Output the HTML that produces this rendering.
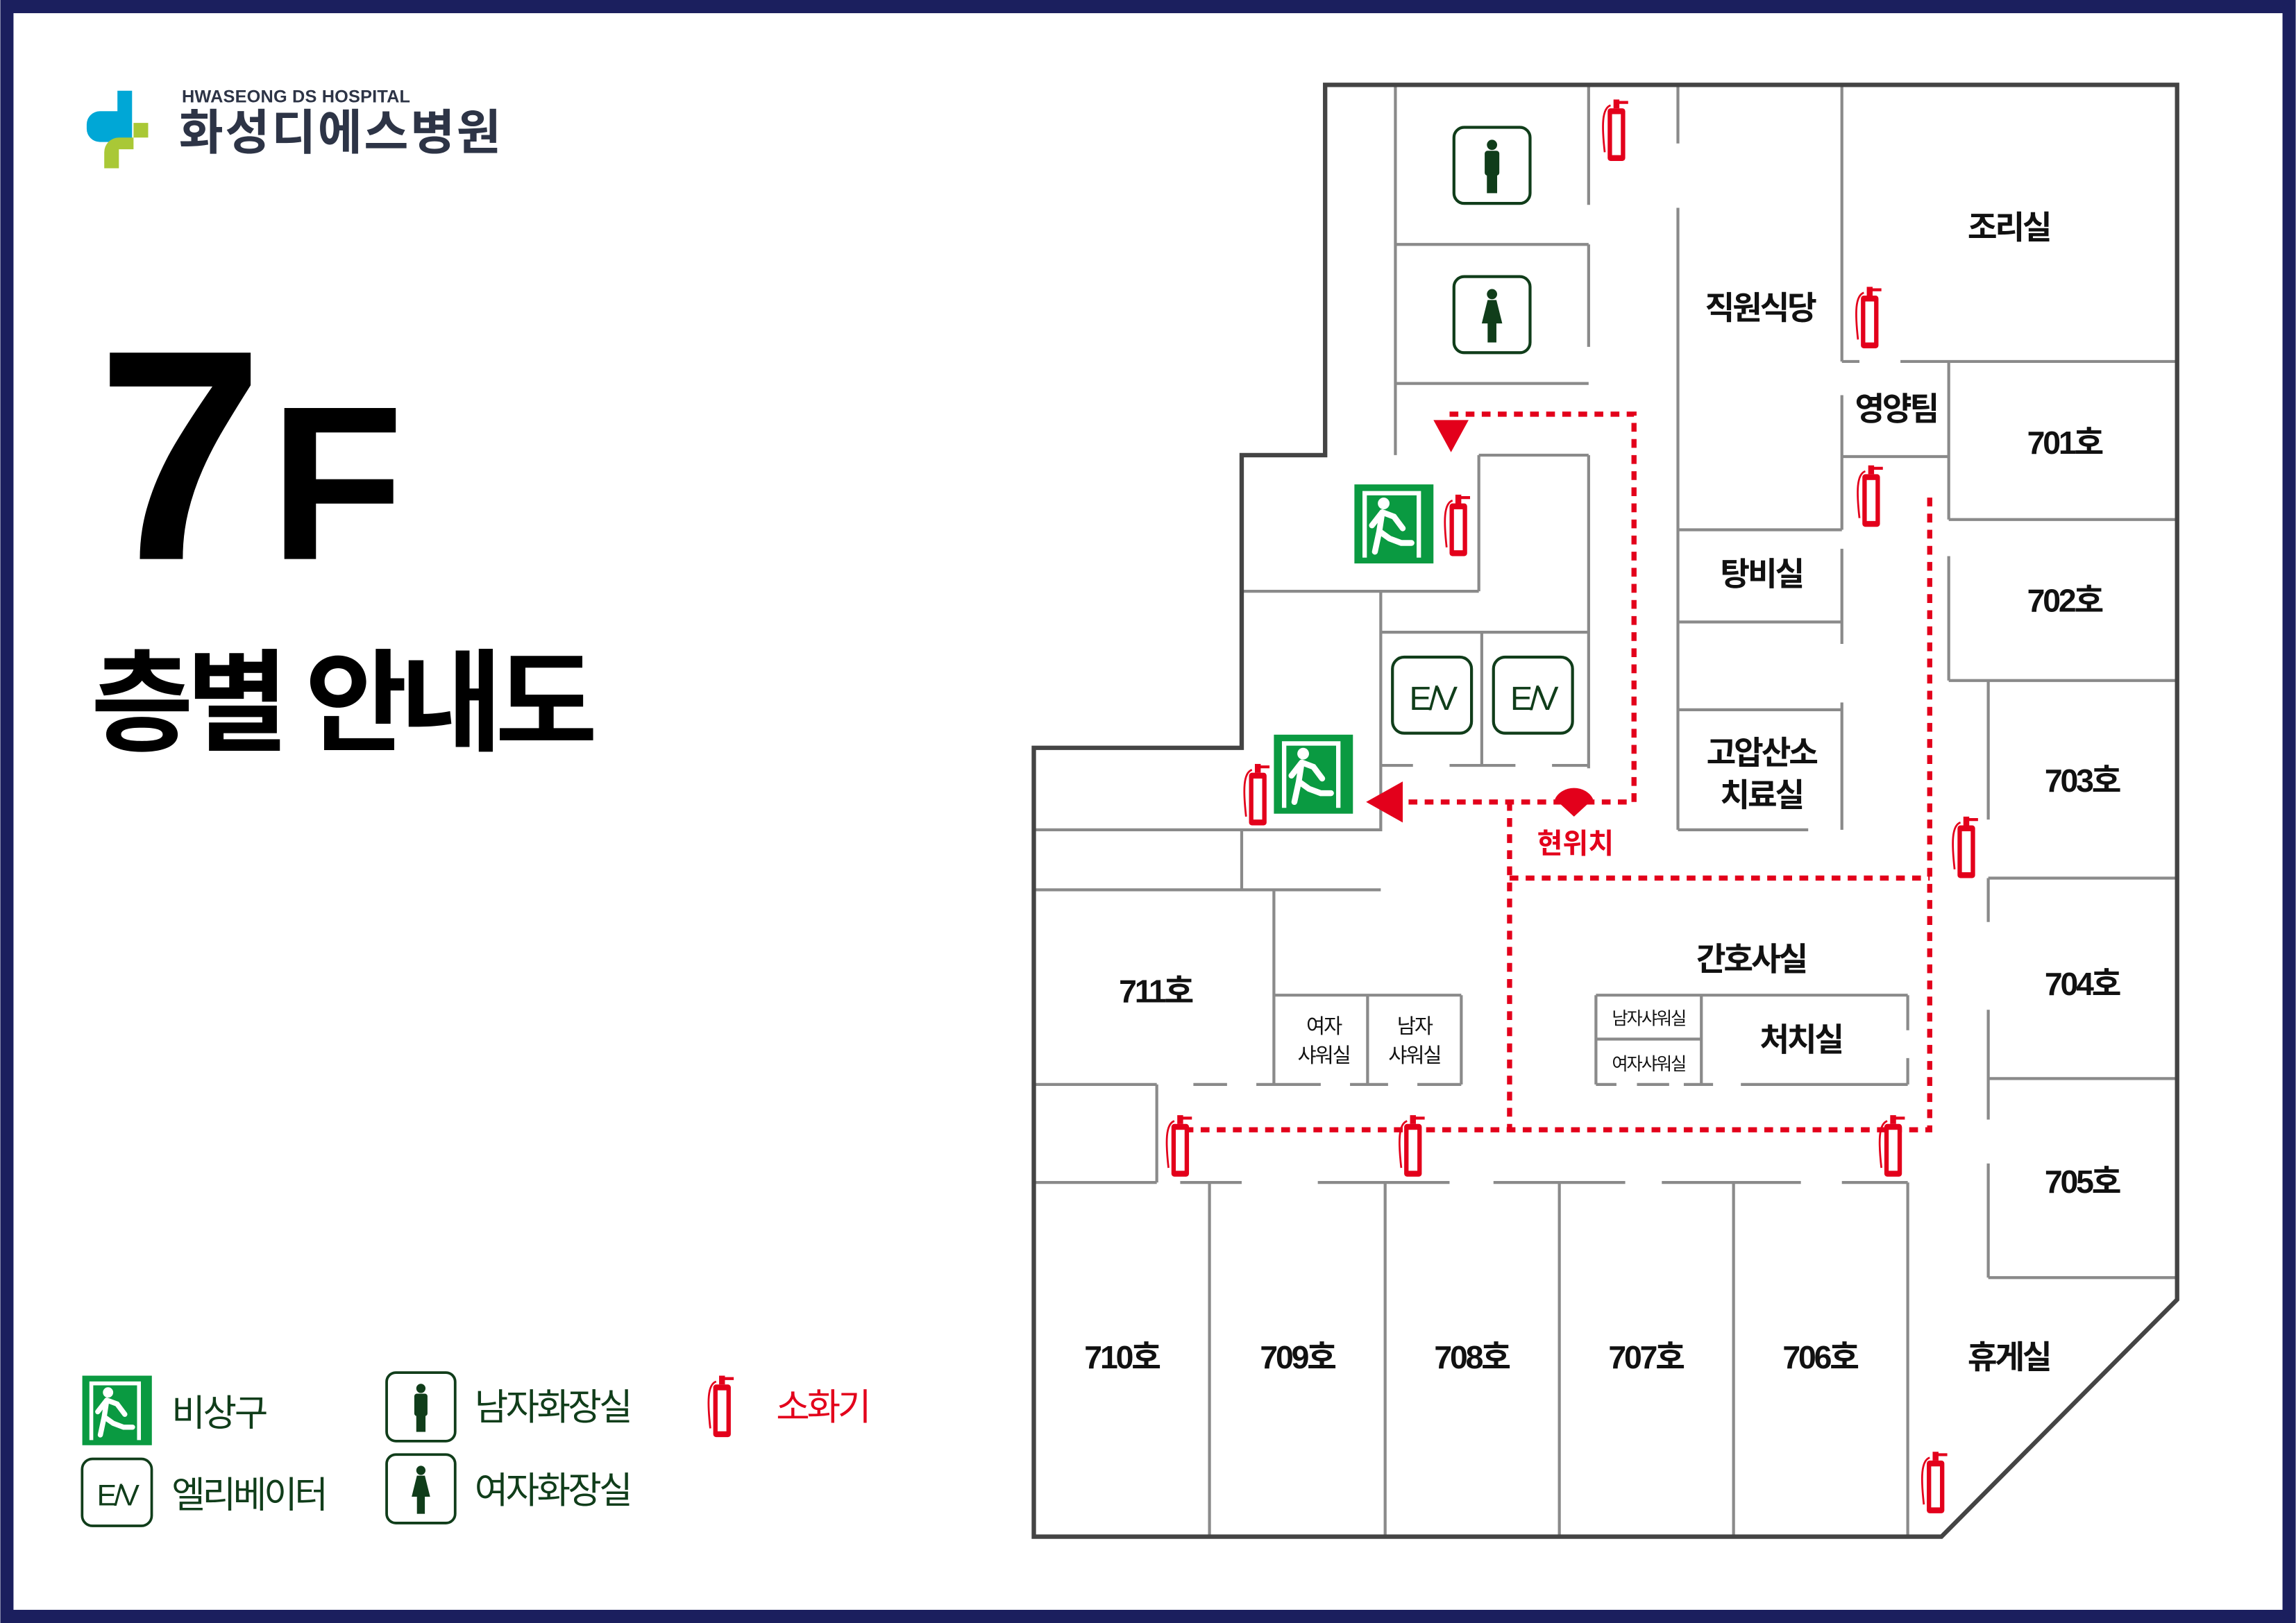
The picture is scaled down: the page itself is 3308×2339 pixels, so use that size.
<!DOCTYPE html>
<html><head><meta charset="utf-8"><style>
html,body{margin:0;padding:0;background:#fff}
svg{display:block}
text{font-family:"Liberation Sans","Noto Sans CJK KR",sans-serif}
</style></head><body>
<svg width="3308" height="2339" viewBox="0 0 1568 1109" xmlns="http://www.w3.org/2000/svg">
<defs>
<g id="ext">
 <path d="M-4,-16 C-10,-14 -10,-2 -8,16" stroke="#e3001b" stroke-width="1.3" fill="none"/>
 <rect x="-6" y="-14" width="12" height="36" rx="2" fill="#e3001b"/>
 <rect x="-3" y="-10" width="6" height="28" fill="#fff"/>
 <rect x="-2" y="-20" width="4" height="6" fill="#e3001b"/>
 <path d="M0,-18 L8,-18" stroke="#e3001b" stroke-width="2"/>
</g>
<g id="exit">
 <rect x="0" y="0" width="54" height="54" fill="#0a9a41"/>
 <path d="M7,50 V6 H44 V50" stroke="#fff" stroke-width="3" fill="none"/>
 <circle cx="20" cy="13" r="4" fill="#fff"/>
 <path d="M19,19 L27,22 L33,30 M19,19 L17,32 L14,46 M17,32 L24,37 L32,40 L39,40 M19,19 L12,28" stroke="#fff" stroke-width="4" fill="none" stroke-linecap="round"/>
</g>
<g id="man">
 <rect x="1" y="1" width="52" height="52" rx="7" fill="#fff" stroke="#103d1a" stroke-width="2"/>
 <circle cx="27" cy="13" r="3.5" fill="#103d1a"/>
 <rect x="22" y="17" width="10" height="17" rx="2" fill="#103d1a"/>
 <rect x="23.5" y="32" width="7" height="14" fill="#103d1a"/>
</g>
<g id="woman">
 <rect x="1" y="1" width="52" height="52" rx="7" fill="#fff" stroke="#103d1a" stroke-width="2"/>
 <circle cx="27" cy="13" r="3.5" fill="#103d1a"/>
 <path d="M24,17 H30 L34,33 H20 Z" fill="#103d1a"/>
 <rect x="24" y="32" width="6" height="14" fill="#103d1a"/>
</g>
<g id="ev">
 <rect x="1" y="1" width="54" height="52" rx="8" fill="#fff" stroke="#103d1a" stroke-width="2"/>
 <text x="28" y="37" font-size="23" text-anchor="middle" fill="#103d1a" letter-spacing="-2">E/V</text>
</g>
</defs>

<rect x="0" y="0" width="1568" height="1109" fill="#1b1f5e"/>
<rect x="9" y="9" width="1550" height="1091" fill="#fff"/>

<!-- logo -->
<path d="M80,62 h10 v35 h-22 a9,9 0 0 1 -9,-9 v-3 a9,9 0 0 1 9,-9 h12 z" fill="#00a7d6"/>
<path d="M81,94 h10 v8 h-10 v13 h-10 v-11 a10,10 0 0 1 10,-10 z M91,84 h10 v10 h-10 z" fill="#a9c836"/>
<text x="124" y="70" font-size="12" fill="#2d3446" font-weight="bold" textLength="156">HWASEONG DS HOSPITAL</text>
<text x="122" y="102" font-size="33" fill="#2d3446" font-weight="bold" textLength="220">화성디에스병원</text>

<text x="66" y="382" font-size="205" font-weight="bold" fill="#000">7</text>
<text x="184" y="382" font-size="150" font-weight="bold" fill="#000">F</text>
<text x="62" y="507" font-size="76" font-weight="bold" fill="#000" textLength="346">층별 안내도</text>

<!-- legend -->
<use href="#exit" transform="translate(56,940) scale(0.88)"/>
<text x="117" y="974" font-size="25" fill="#103d1a" textLength="66">비상구</text>
<use href="#ev" transform="translate(55,996) scale(0.88)"/>
<text x="117" y="1030" font-size="25" fill="#103d1a" textLength="107">엘리베이터</text>
<use href="#man" transform="translate(263,937) scale(0.9)"/>
<text x="324" y="970" font-size="25" fill="#103d1a" textLength="108">남자화장실</text>
<use href="#woman" transform="translate(263,993) scale(0.9)"/>
<text x="324" y="1027" font-size="25" fill="#103d1a" textLength="108">여자화장실</text>
<use href="#ext" transform="translate(493,960)"/>
<text x="530" y="970" font-size="25" fill="#e3001b" textLength="65">소화기</text>

<!-- inner walls -->
<g stroke="#8a8a8a" stroke-width="2" fill="none">
 <path d="M953,58 V311"/>
 <path d="M953,167 H1085 M953,262 H1085 M1085,58 V140 M1085,167 V237"/>
 <path d="M1146,58 V98 M1146,142 V567"/>
 <path d="M1146,362 H1258 M1146,425 H1258 M1146,485 H1258 M1146,567 H1235"/>
 <path d="M1258,58 V247 M1258,270 V362 M1258,375 V440 M1258,480 V567"/>
 <path d="M1258,247 H1270 M1298,247 H1487 M1331,247 V312 M1258,312 H1331"/>
 <path d="M1331,312 V355 M1331,355 H1487 M1331,380 V465 M1331,465 H1487"/>
 <path d="M1358,465 V560 M1358,600 H1487 M1358,600 V630 M1358,690 V737 M1358,737 H1487 M1358,737 V765 M1358,795 V873 M1358,873 H1487"/>
 <path d="M848,404 H1010 M1010,311 V404 M1010,311 H1085 M1085,311 V525"/>
 <path d="M943,404 V568 M943,432 H1085 M1012,432 V523 M943,523 H965 M990,523 H1035 M1060,523 H1085"/>
 <path d="M706,567 H943 M848,567 V608 M706,608 H943 M870,608 V741"/>
 <path d="M870,680 H998 M934,680 V741 M998,680 V741"/>
 <path d="M706,741 H790 M815,741 H838 M858,741 H902 M922,741 H948 M968,741 H998"/>
 <path d="M790,741 V808 M706,808 H790"/>
 <path d="M1090,680 H1303 M1090,680 V741 M1090,710 H1162 M1162,680 V741 M1303,680 V704 M1303,723 V741"/>
 <path d="M1090,741 H1104 M1118,741 H1140 M1150,741 H1170 M1189,741 H1303"/>
 <path d="M806,808 H848 M900,808 H990 M1020,808 H1110 M1135,808 H1230 M1258,808 H1303"/>
 <path d="M826,808 V1050 M946,808 V1050 M1065,808 V1050 M1184,808 V1050 M1303,808 V1050"/>
</g>
<!-- outer wall -->
<path d="M905,58 H1487 V888 L1326,1050 H706 V511 H848 V311 H905 Z" fill="none" stroke="#444" stroke-width="3"/>

<!-- route -->
<g stroke="#e3001b" stroke-width="3.5" fill="none" stroke-dasharray="6,5">
 <path d="M990,283 H1116 V548 H958"/>
 <path d="M1031,548 V772"/>
 <path d="M1031,600 H1318"/>
 <path d="M1318,340 V772 H808"/>
</g>
<path d="M979,287 H1003 L991,309 Z" fill="#e3001b"/>
<path d="M933,548 L958,534 V562 Z" fill="#e3001b"/>
<path d="M1062,546 A14,12 0 0 1 1088,546 L1075,558 Z" fill="#e3001b"/>
<text x="1076" y="583" font-size="19" fill="#e3001b" font-weight="bold" text-anchor="middle">현위치</text>

<!-- icons -->
<use href="#man" transform="translate(992,86)"/>
<use href="#woman" transform="translate(992,188)"/>
<use href="#ev" transform="translate(950,448)"/>
<use href="#ev" transform="translate(1019,448)"/>
<use href="#exit" transform="translate(925,331)"/>
<use href="#exit" transform="translate(870,502)"/>
<use href="#ext" transform="translate(1104,88)"/>
<use href="#ext" transform="translate(1277,216)"/>
<use href="#ext" transform="translate(996,358)"/>
<use href="#ext" transform="translate(1278,338)"/>
<use href="#ext" transform="translate(859,542)"/>
<use href="#ext" transform="translate(1343,578)"/>
<use href="#ext" transform="translate(806,782)"/>
<use href="#ext" transform="translate(965,782)"/>
<use href="#ext" transform="translate(1293,782)"/>
<use href="#ext" transform="translate(1322,1012)"/>

<!-- labels -->
<g font-size="22" fill="#111" text-anchor="middle" letter-spacing="-1.5" font-weight="bold" stroke="#fff" stroke-width="0">
 <text x="1372" y="163">조리실</text>
 <text x="1202" y="218">직원식당</text>
 <text x="1295" y="287">영양팀</text>
 <text x="1410" y="310">701호</text>
 <text x="1410" y="418">702호</text>
 <text x="1203" y="400">탕비실</text>
 <text x="1203" y="522">고압산소</text>
 <text x="1203" y="551">치료실</text>
 <text x="1422" y="541">703호</text>
 <text x="1422" y="680">704호</text>
 <text x="1422" y="815">705호</text>
 <text x="1196" y="663">간호사실</text>
 <text x="1230" y="718">처치실</text>
 <text x="789" y="685">711호</text>
 <text x="766" y="935">710호</text>
 <text x="886" y="935">709호</text>
 <text x="1005" y="935">708호</text>
 <text x="1124" y="935">707호</text>
 <text x="1243" y="935">706호</text>
 <text x="1372" y="935">휴게실</text>
</g>
<g font-size="14" fill="#111" text-anchor="middle" letter-spacing="-1">
 <text x="904" y="706">여자</text>
 <text x="904" y="726">샤워실</text>
 <text x="966" y="706">남자</text>
 <text x="966" y="726">샤워실</text>
 <text x="1126" y="700" font-size="12">남자샤워실</text>
 <text x="1126" y="731" font-size="12">여자샤워실</text>
</g>
</svg>
</body></html>
